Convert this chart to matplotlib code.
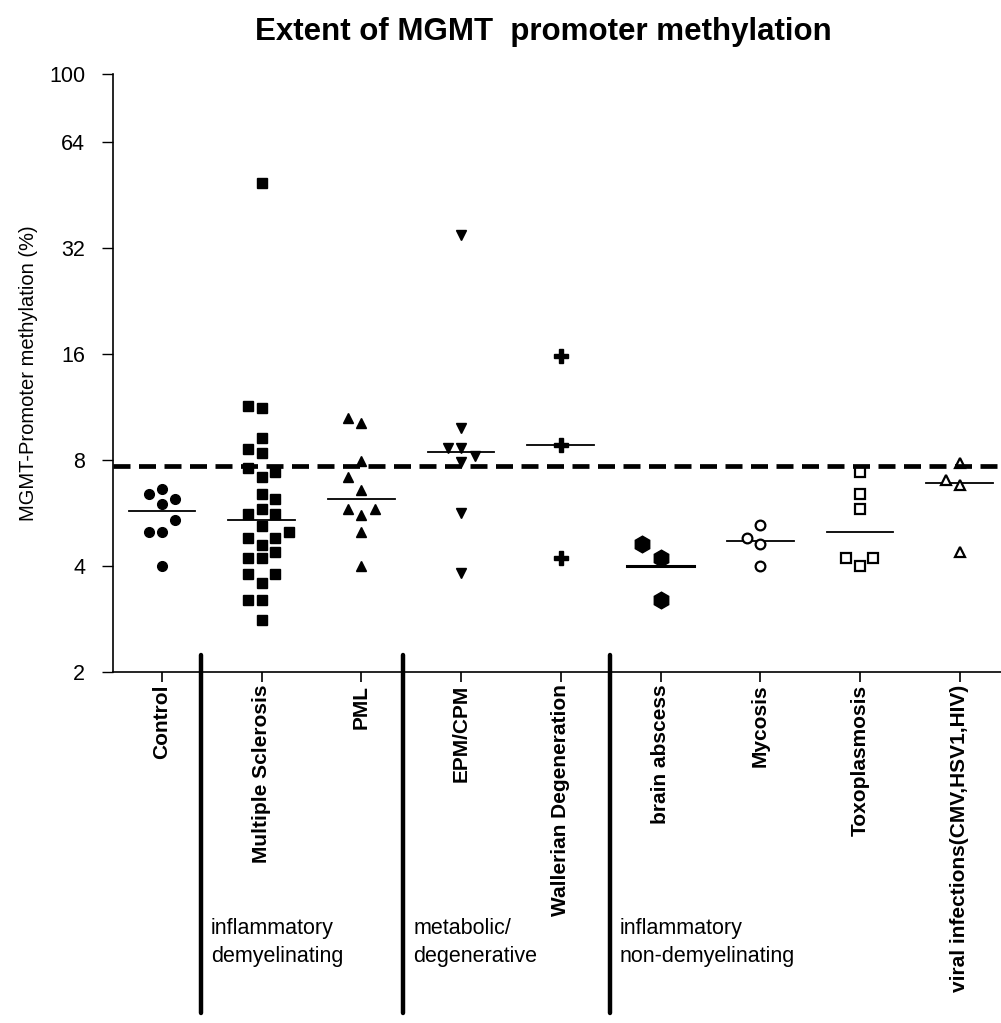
import matplotlib
matplotlib.use("Agg")
import matplotlib.pyplot as plt
import matplotlib.transforms as mtransforms
from matplotlib.ticker import FixedLocator, NullLocator

plt.rcParams["font.family"] = ["Liberation Sans", "DejaVu Sans"]

categories = ["Control", "Multiple Sclerosis", "PML", "EPM/CPM", "Wallerian Degeneration",
              "brain abscess", "Mycosis", "Toxoplasmosis", "viral infections(CMV,HSV1,HIV)"]

# methylation values (%) per group
control = [6.62, 6.41, 6.20, 6.00, 5.41, 5.01, 5.01, 4.00]
ms = [48.9, 11.39, 11.22, 9.22, 8.58, 8.39, 7.58, 7.38, 7.17, 6.41, 6.20, 5.80, 5.61, 5.61,
      5.19, 5.01, 4.81, 4.81, 4.59, 4.39, 4.21, 4.21, 3.81, 3.81, 3.59, 3.20, 3.20, 2.81]
pml = [10.55, 10.17, 7.97, 7.17, 6.58, 5.80, 5.80, 5.58, 4.99, 4.00]
epm = [34.8, 9.84, 8.67, 8.67, 8.23, 7.91, 5.65, 3.83]
wallerian = [15.8, 8.83, 4.21]
abscess = [4.61, 4.21, 3.20]
mycosis = [5.22, 4.81, 4.61, 4.00]
toxo = [7.38, 6.41, 5.80, 4.21, 4.21, 4.00]
viral = [7.83, 7.02, 6.79, 4.39]

# horizontal column of each point (scatter layout, in columns of STEP)
control_col = [0, -1, 1, 0, 1, -1, 0, 0]
ms_col = [0, -1, 0, 0, -1, 0, -1, 1, 0, 0, 1, 0, -1, 1, 0, 2, -1, 1, 0, 1, -1, 0, -1, 1, 0, -1, 0, 0]
pml_col = [-1, 0, 0, -1, 0, -1, 1, 0, 0, 0]
epm_col = [0, 0, -1, 0, 1, 0, 0, 0]
wallerian_col = [0, 0, 0]
abscess_col = [-1.35, 0, 0]
mycosis_col = [0, -1, 0, 0]
toxo_col = [0, 0, 0, -1, 1, 0]
viral_col = [0, -1, 0, 0]

# horizontal bar per group (median)
medians = [5.73, 5.41, 6.20, 8.41, 8.83, 4.00, 4.71, 5.01, 6.90]
cutoff = 7.69

group_labels = ["inflammatory\ndemyelinating", "metabolic/\ndegenerative", "inflammatory\nnon-demyelinating"]
separators = [0.39, 2.42, 4.49]

y_ticks = [2, 4, 8, 16, 32, 64, 100]

STEP = 0.135
groups = [control, ms, pml, epm, wallerian, abscess, mycosis, toxo, viral]
cols = [control_col, ms_col, pml_col, epm_col, wallerian_col, abscess_col, mycosis_col, toxo_col, viral_col]
styles = [
    dict(marker="o", ms=7, mfc="black", mec="black"),
    dict(marker="s", ms=7, mfc="black", mec="black"),
    dict(marker="^", ms=7.5, mfc="black", mec="black"),
    dict(marker="v", ms=7.5, mfc="black", mec="black"),
    dict(marker="P", ms=9.5, mfc="black", mec="black"),
    dict(marker="h", ms=12, mfc="black", mec="black"),
    dict(marker="o", ms=7, mfc="white", mec="black", mew=1.6),
    dict(marker="s", ms=7, mfc="white", mec="black", mew=1.6),
    dict(marker="^", ms=7.5, mfc="white", mec="black", mew=1.6),
]

fig = plt.figure(figsize=(10.01, 10.23), dpi=100)
ax = fig.add_axes([0.113, 0.343, 0.887, 0.585])

for i, (vals, cc, st) in enumerate(zip(groups, cols, styles)):
    xs = [i + c * STEP for c in cc]
    ax.plot(xs, vals, linestyle="none", clip_on=False, zorder=3, **st)
    lw = 2.2 if i == 5 else 1.3
    ax.plot([i - 0.335, i + 0.335], [medians[i], medians[i]], color="black", lw=lw, zorder=2)

ax.axhline(cutoff, color="black", lw=3.4, dashes=(3.6, 1.8), zorder=4)

ax.set_yscale("log", base=2)
ax.set_ylim(2, 100)
ax.set_xlim(-0.49, 8.415)
ax.yaxis.set_major_locator(FixedLocator(y_ticks))
ax.yaxis.set_minor_locator(NullLocator())
ax.set_yticklabels([str(t) for t in y_ticks], fontsize=15.5)
ax.set_xticks(range(len(categories)))
ax.set_xticklabels(categories, rotation=90, fontsize=15, fontweight="bold", va="top")
ax.tick_params(axis="x", length=7, width=1.2, pad=2)
ax.tick_params(axis="y", length=8, width=1.0, pad=12)
for side in ("top", "right"):
    ax.spines[side].set_visible(False)
for side in ("left", "bottom"):
    ax.spines[side].set_linewidth(1.2)

ax.set_ylabel("MGMT-Promoter methylation (%)", fontsize=14.5, labelpad=8)
fig.suptitle("Extent of MGMT  promoter methylation", fontsize=22.5, fontweight="bold", x=0.543, y=0.983)

trans = mtransforms.blended_transform_factory(ax.transData, fig.transFigure)
for sx in separators:
    ax.plot([sx, sx], [0.36, 0.010], transform=trans, color="black", lw=3.2,
            solid_capstyle="round", clip_on=False)
for sx, lab in zip(separators, group_labels):
    ax.text(sx + 0.1, 0.103, lab, transform=trans, fontsize=15.5, ha="left", va="top",
            linespacing=1.45)

fig.savefig("out.png", dpi=100)
